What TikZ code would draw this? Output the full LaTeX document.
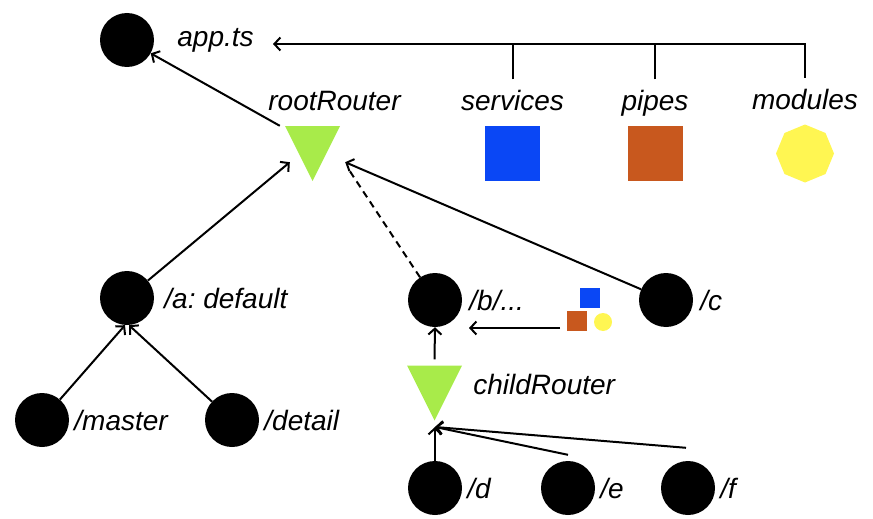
\documentclass[tikz,border=0pt]{standalone}
\usepackage{fontspec}
\setmainfont{Liberation Sans}
\frenchspacing
\usetikzlibrary{positioning,arrows.meta,shapes.geometric}

\definecolor{routergreen}{HTML}{A8EB4A}
\definecolor{svcblue}{HTML}{0A47F5}
\definecolor{pipeorange}{HTML}{C8581E}
\definecolor{modyellow}{HTML}{FFF652}

\tikzset{
  dot/.style={circle,fill=black,minimum size=54pt,inner sep=0pt},
  lbl/.style={font=\fontsize{28}{32}\selectfont\itshape,inner sep=1pt,text height=20pt,text depth=6pt},
  side/.style={lbl,yshift=-3pt},
  router/.style={minimum width=55pt,minimum height=55pt,inner sep=0pt,
    path picture={\fill[routergreen] (path picture bounding box.north west)
      -- (path picture bounding box.north east)
      -- (path picture bounding box.south) -- cycle;}},
  link/.style={line width=2pt,-{Straight Barb[length=6pt,width=13pt]}},
  bus/.style={line width=2pt}
}

\begin{document}
\begin{tikzpicture}[x=1pt,y=-1pt]
\useasboundingbox (0,0) rectangle (873,519);

% top: app and the providers
\node[dot] (app) at (127,40) {};
\node[lbl,right=22pt of app] (appl) {app.ts};
\node[router] (root) at (312.5,153.5) {};
\node[lbl,above=8pt of root,xshift=22pt] (rootl) {rootRouter};

\node[minimum size=55pt,inner sep=0pt,fill=svcblue] (svc) at (512.5,153.5) {};
\node[minimum size=55pt,inner sep=0pt,fill=pipeorange] (pipe) at (655,153.5) {};
\node[regular polygon,regular polygon sides=8,shape border rotate=22.5,minimum size=58pt,inner sep=0pt,fill=modyellow] (mod) at (805,153.5) {};
\node[lbl,above=8pt of svc] (svcl) {services};
\node[lbl,above=8pt of pipe] (pipel) {pipes};
\node[lbl,above=8pt of mod] (modl) {modules};

\coordinate (appin) at (273,44);
\draw[link] ([yshift=10pt]modl.north) |- (appin);
\draw[bus] ([yshift=10pt]svcl.north) -- (svcl.north |- appin);
\draw[bus] ([yshift=10pt]pipel.north) -- (pipel.north |- appin);
\draw[link] ([xshift=-5pt]root.north west) -- (app);

% routes
\node[dot] (a) at (127,298) {};
\node[side,right=9pt of a] (al) {/a: default};
\node[dot] (master) at (42,420) {};
\node[side,right=4pt of master] (masterl) {/master};
\node[dot] (detail) at (232,420) {};
\node[side,right=4pt of detail] (detaill) {/detail};

\node[dot] (b) at (435,300) {};
\node[side,right=6pt of b] (bl) {/b/...};
\node[dot] (c) at (666,300) {};
\node[side,right=6pt of c] (cl) {/c};

\node[minimum size=20pt,inner sep=0pt,fill=svcblue] (svc2) at (590,298) {};
\node[minimum size=20pt,inner sep=0pt,fill=pipeorange] (pipe2) at (577,321) {};
\node[circle,minimum size=18pt,inner sep=0pt,fill=modyellow] (mod2) at (603,322) {};

\node[router] (child) at (434.5,393) {};
\node[lbl,right=10pt of child,yshift=6pt] (childl) {childRouter};

\node[dot] (d) at (435,488) {};
\node[side,right=4pt of d] (dl) {/d};
\node[dot] (e) at (568,488) {};
\node[side,right=4pt of e] (el) {/e};
\node[dot] (f) at (688,488) {};
\node[side,right=4pt of f] (fl) {/f};

\draw[link] (a) -- ([xshift=5pt,yshift=19pt]root.south west);
\draw[link] (c) -- ([xshift=5pt,yshift=19pt]root.south east);
\draw[bus,dashed,dash pattern=on 7pt off 5pt] (b) -- ([xshift=9pt,yshift=11pt]root.south east);
\draw[link] (master) -- ([xshift=-2pt]a.south);
\draw[link] (detail) -- ([xshift=2pt]a.south);

\coordinate (bout) at (560,328);
\coordinate (bin) at (469,328);
\draw[link] (bout) -- (bin);
\draw[link] ([yshift=6pt]child.north) -- (b.south);

\coordinate (cin) at (435,427);
\draw[link] (d.north) -- (cin);
\draw[link] ([yshift=6pt]e.north) -- (cin);
\draw[link] ([xshift=-2pt,yshift=13pt]f.north) -- (cin);
\end{tikzpicture}
\end{document}
